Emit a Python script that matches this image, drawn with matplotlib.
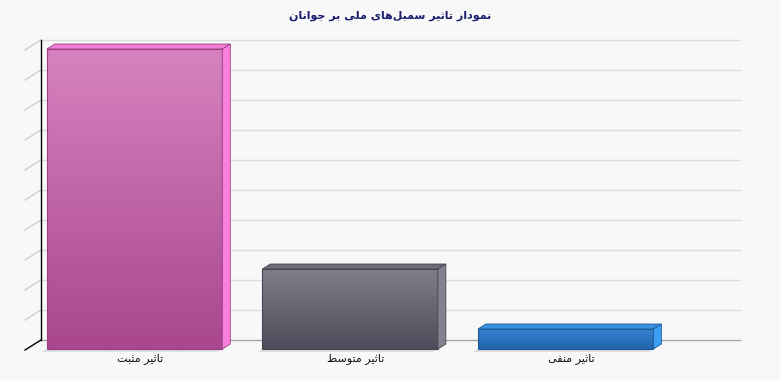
import numpy as np
import matplotlib
matplotlib.use("Agg")
import matplotlib.pyplot as plt
from matplotlib.patches import Polygon
from matplotlib.colors import LinearSegmentedColormap
from matplotlib.transforms import Affine2D, IdentityTransform

# ── data ─────────────────────────────────────────────────────────
title = "نمودار تاثیر سمبل\u200cهای ملی بر جوانان"
categories = ["تاثیر مثبت", "تاثیر متوسط", "تاثیر منفی"]
values = [75, 20, 5]
y_max = 75
grid_step = 7.5

front_top = ["#d782c0", "#807e8a", "#3483d0"]
front_bottom = ["#a9468f", "#4e4c5a", "#2364ac"]
side_colors = ["#fa80de", "#83818e", "#3c9ff3"]
top_colors = ["#f07fd3", "#6e6c78", "#3a90e0"]
edge_colors = ["#9a3e86", "#46444f", "#1f5a98"]


# ── arabic/persian shaping (matplotlib draws glyphs unjoined, LTR) ─
FORMS = {
    "ا": ("\uFE8D", "\uFE8E", None, None),
    "ب": ("\uFE8F", "\uFE90", "\uFE91", "\uFE92"),
    "ت": ("\uFE95", "\uFE96", "\uFE97", "\uFE98"),
    "ث": ("\uFE99", "\uFE9A", "\uFE9B", "\uFE9C"),
    "ج": ("\uFE9D", "\uFE9E", "\uFE9F", "\uFEA0"),
    "د": ("\uFEA9", "\uFEAA", None, None),
    "ر": ("\uFEAD", "\uFEAE", None, None),
    "س": ("\uFEB1", "\uFEB2", "\uFEB3", "\uFEB4"),
    "ط": ("\uFEC1", "\uFEC2", "\uFEC3", "\uFEC4"),
    "ف": ("\uFED1", "\uFED2", "\uFED3", "\uFED4"),
    "ل": ("\uFEDD", "\uFEDE", "\uFEDF", "\uFEE0"),
    "م": ("\uFEE1", "\uFEE2", "\uFEE3", "\uFEE4"),
    "ن": ("\uFEE5", "\uFEE6", "\uFEE7", "\uFEE8"),
    "ه": ("\uFEE9", "\uFEEA", "\uFEEB", "\uFEEC"),
    "و": ("\uFEED", "\uFEEE", None, None),
    "ی": ("\uFBFC", "\uFBFD", "\uFBFE", "\uFBFF"),
}


def shape(s):
    out = []
    for i, ch in enumerate(s):
        if ch not in FORMS:
            out.append(ch)
            continue
        prev = s[i - 1] if i > 0 else ""
        nxt = s[i + 1] if i + 1 < len(s) else ""
        iso, fin, ini, med = FORMS[ch]
        jp = prev in FORMS and FORMS[prev][2] is not None
        jn = ini is not None and nxt in FORMS
        if jp and jn:
            out.append(med)
        elif jp:
            out.append(fin)
        elif jn:
            out.append(ini)
        else:
            out.append(iso)
    return "".join(out).replace("\u200c", "")[::-1]


# ── figure ───────────────────────────────────────────────────────
DPI = 100
DX, DY = 16, 10          # 3d depth in pixels
bg = "#f8f8f8"

fig = plt.figure(figsize=(7.8, 3.8), dpi=DPI, facecolor=bg)
ax = fig.add_axes([25 / 780, 30 / 380, 699 / 780, 300 / 380])
ax.set_facecolor(bg)
ax.set_autoscale_on(False)
x_lo, x_hi = -0.501, 2.742
ax.set_xlim(x_lo, x_hi)
ax.set_ylim(0, y_max)
ax.axis("off")

ident = IdentityTransform()


def proj(x, y, d):
    px, py = ax.transData.transform((x, y))
    return px + d * DX, py + d * DY


def line(p, q, **kw):
    ax.plot([p[0], q[0]], [p[1], q[1]], transform=ident, clip_on=False, **kw)


# back wall grid + left wall ticks
grid_vals = np.arange(0, y_max + grid_step / 2, grid_step)
for v in grid_vals:
    c = "#a8a8a8" if v == 0 else "#dcdcdc"
    line(proj(x_lo, v, 1), proj(x_hi, v, 1), color=c, lw=1, zorder=1)
    if v > 0:
        line(proj(x_lo, v, 0), proj(x_lo, v, 1), color="#d0d0d0", lw=1, zorder=1)
line(proj(x_lo, 0, 1), proj(x_lo, y_max, 1), color="black", lw=1, zorder=2)
line(proj(x_lo, 0, 0), proj(x_lo, 0, 1), color="black", lw=1, zorder=2)

# bars
half = 0.407
d0, d1 = 0.1, 0.6
for i, (v, lab) in enumerate(zip(values, categories)):
    x0, x1 = i - half, i + half

    # floor shadow
    sh = [proj(x0, 0, d0), proj(x1, 0, d0), proj(x1, 0, d1), proj(x0, 0, d1)]
    sh = [(px - 5, py - 3) for px, py in sh]
    ax.add_patch(Polygon(sh, closed=True, transform=ident, clip_on=False,
                         facecolor="#dedede", edgecolor="none", zorder=3))

    # front face with vertical gradient
    cmap = LinearSegmentedColormap.from_list(f"g{i}", [front_top[i], front_bottom[i]])
    grad = np.linspace(0, 1, 200).reshape(-1, 1)
    tr = ax.transData + Affine2D().translate(d0 * DX, d0 * DY)
    im = ax.imshow(grad, cmap=cmap, extent=(x0, x1, 0, v), origin="upper",
                   aspect="auto", transform=tr, zorder=4, interpolation="bilinear")
    im.set_clip_on(False)
    front = [proj(x0, 0, d0), proj(x1, 0, d0), proj(x1, v, d0), proj(x0, v, d0)]
    ax.add_patch(Polygon(front, closed=True, transform=ident, clip_on=False,
                         facecolor="none", edgecolor=edge_colors[i], lw=0.8, zorder=5))

    # side face
    side = [proj(x1, 0, d0), proj(x1, 0, d1), proj(x1, v, d1), proj(x1, v, d0)]
    ax.add_patch(Polygon(side, closed=True, transform=ident, clip_on=False,
                         facecolor=side_colors[i], edgecolor=edge_colors[i],
                         lw=0.6, zorder=5))

    # top face
    top = [proj(x0, v, d0), proj(x1, v, d0), proj(x1, v, d1), proj(x0, v, d1)]
    ax.add_patch(Polygon(top, closed=True, transform=ident, clip_on=False,
                         facecolor=top_colors[i], edgecolor=edge_colors[i],
                         lw=0.6, zorder=5))

    ax.annotate(shape(lab), (i, 0), xytext=(5, -6), textcoords="offset points",
                ha="center", va="center", fontsize=8, color="#111111",
                family="DejaVu Sans", annotation_clip=False)

fig.text(0.5, 1 - 16 / 380, shape(title), ha="center", va="center",
         fontsize=8, fontweight="bold", color="#1c1c6e", family="DejaVu Sans")

fig.savefig("out.png", dpi=DPI, facecolor=bg)
